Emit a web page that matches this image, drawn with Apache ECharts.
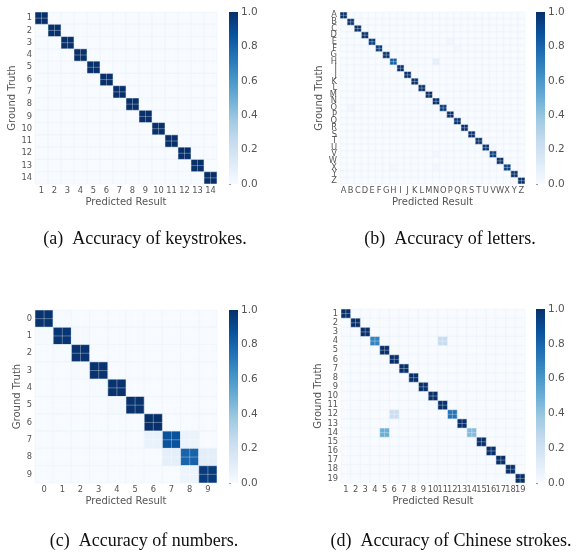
<!DOCTYPE html>
<html>
<head>
<meta charset="utf-8">
<script src="https://cdn.jsdelivr.net/npm/echarts@6/dist/echarts.min.js"></script>
<style>html,body{margin:0;padding:0;background:#fff;}#c{width:576px;height:554px;}</style>
</head>
<body>
<div id="c"></div>
<script>
// ---- Data ----
const keyCats = ['1','2','3','4','5','6','7','8','9','10','11','12','13','14'];
const keyDiag = [1,1,1,1,1,1,1,1,1,1,1,1,1,1];
const keyOff = [];

const letterCats = ['A','B','C','D','E','F','G','H','I','J','K','L','M','N','O','P','Q','R','S','T','U','V','W','X','Y','Z'];
const letterDiag = [1,1,1,1,0.96,0.95,1,0.82,1,1,1,1,1,1,0.96,1,1,1,1,1,0.98,0.94,1,0.93,1,1];
// [truthIndex, predictedIndex, value]
const letterOff = [[4,15,0.04],[5,16,0.03],[5,6,0.02],[7,13,0.1],[14,1,0.04],[21,13,0.04],[20,21,0.02],[21,20,0.02],[23,7,0.03],[23,13,0.04]];

const numCats = ['0','1','2','3','4','5','6','7','8','9'];
const numDiag = [0.99,0.98,0.99,0.99,0.99,0.99,1,0.87,0.8,0.96];
const numOff = [[0,1,0.01],[1,0,0.01],[1,2,0.015],[2,1,0.01],[3,2,0.01],[4,3,0.01],[5,4,0.015],[7,6,0.07],[7,8,0.06],[8,7,0.09],[8,9,0.1],[9,8,0.05]];

const strokeCats = ['1','2','3','4','5','6','7','8','9','10','11','12','13','14','15','16','17','18','19'];
const strokeDiag = [1,1,1,0.68,1,1,1,1,1,1,1,0.74,1,0.44,1,1,1,1,1];
const strokeOff = [[3,10,0.24],[11,5,0.22],[13,4,0.5]];

const colorbarTicks = [0, 0.2, 0.4, 0.6, 0.8, 1.0];
const captions = ['(a)  Accuracy of keystrokes.', '(b)  Accuracy of letters.', '(c)  Accuracy of numbers.', '(d)  Accuracy of Chinese strokes.'];

const blues = ['#f7fbff','#deebf7','#c6dbef','#9ecae1','#6baed6','#4292c6','#2171b5','#08519c','#08306b'];

function buildMatrix(n, diag, off) {
  const m = [];
  for (let r = 0; r < n; r++) { const row = []; for (let c = 0; c < n; c++) row.push(0); m.push(row); }
  for (let i = 0; i < n; i++) m[i][i] = diag[i];
  off.forEach(o => { m[o[0]][o[1]] = o[2]; });
  const zeros = [], nz = [];
  for (let r = 0; r < n; r++) for (let c = 0; c < n; c++) {
    (m[r][c] > 0 ? nz : zeros).push([c, r, m[r][c]]);
  }
  return zeros.concat(nz);
}

function renderCell(params, api) {
  const x = api.value(0), y = api.value(1);
  const p = api.coord([x, y]);
  const s = api.size([1, 1]);
  const color = api.visual('color');
  const x0 = p[0] - s[0] / 2, y0 = p[1] - s[1] / 2;
  const ls = 'rgba(255,255,255,0.55)';
  return {
    type: 'group',
    children: [
      { type: 'rect', shape: { x: x0, y: y0, width: s[0], height: s[1] }, style: { fill: color, stroke: 'rgba(235,242,250,0.75)', lineWidth: 0.7 } },
      { type: 'line', shape: { x1: p[0], y1: y0, x2: p[0], y2: y0 + s[1] }, style: { stroke: ls, lineWidth: 0.6 } },
      { type: 'line', shape: { x1: x0, y1: p[1], x2: x0 + s[0], y2: p[1] }, style: { stroke: ls, lineWidth: 0.6 } }
    ]
  };
}

function renderBar(params, api) {
  const a = api.coord([0, 1]);
  const b = api.coord([1, 0]);
  const stops = blues.slice().reverse().map((c, i) => ({ offset: i / (blues.length - 1), color: c }));
  return {
    type: 'rect',
    shape: { x: a[0], y: a[1], width: b[0] - a[0], height: b[1] - a[1] },
    style: { fill: new echarts.graphic.LinearGradient(0, 0, 0, 1, stops) }
  };
}

const panels = [
  { cats: keyCats, diag: keyDiag, off: keyOff, grid: { left: 35, top: 12, width: 182, height: 172 }, bar: { left: 229, top: 12, width: 9, height: 172 }, xGap: 13, yGap: 17 },
  { cats: letterCats, diag: letterDiag, off: letterOff, grid: { left: 340, top: 12, width: 185, height: 172 }, bar: { left: 536, top: 12, width: 9, height: 172 }, xGap: 13, yGap: 12 },
  { cats: numCats, diag: numDiag, off: numOff, grid: { left: 35, top: 310, width: 182, height: 173 }, bar: { left: 229, top: 310, width: 9, height: 173 }, xGap: 13, yGap: 11 },
  { cats: strokeCats, diag: strokeDiag, off: strokeOff, grid: { left: 341, top: 309, width: 184, height: 174 }, bar: { left: 536, top: 309, width: 9, height: 174 }, xGap: 13, yGap: 16 }
];

const grid = [], xAxis = [], yAxis = [], series = [], barSeries = [];
const txt = '#555';
panels.forEach((p, i) => {
  grid.push(p.grid); grid.push(p.bar);
  const gi = i * 2, bi = i * 2 + 1;
  xAxis.push({
    type: 'category', data: p.cats, gridIndex: gi,
    axisLine: { show: false }, axisTick: { show: false }, splitLine: { show: false },
    axisLabel: { interval: 0, fontSize: 8.3, color: txt, margin: 3 },
    name: 'Predicted Result', nameLocation: 'middle', nameGap: p.xGap,
    nameTextStyle: { fontSize: 10, color: txt }
  });
  yAxis.push({
    type: 'category', data: p.cats, gridIndex: gi, inverse: true,
    axisLine: { show: false }, axisTick: { show: false }, splitLine: { show: false },
    axisLabel: { interval: 0, fontSize: 8.3, color: txt, margin: 3 },
    name: 'Ground Truth', nameLocation: 'middle', nameGap: p.yGap, nameRotate: 90,
    nameTextStyle: { fontSize: 10, color: txt }
  });
  xAxis.push({ type: 'value', min: 0, max: 1, gridIndex: bi, show: false });
  yAxis.push({
    type: 'value', min: 0, max: 1, interval: 0.2, gridIndex: bi, position: 'right',
    axisLine: { show: false }, splitLine: { show: false },
    axisTick: { show: true, length: 2, lineStyle: { color: txt, width: 0.6 } },
    axisLabel: { fontSize: 10.5, color: txt, margin: 3, formatter: v => (colorbarTicks.indexOf(Math.round(v * 10) / 10) >= 0 ? v.toFixed(1) : '') }
  });
  series.push({
    type: 'custom', xAxisIndex: gi, yAxisIndex: gi,
    dimensions: ['x', 'y', 'v'], encode: { x: 0, y: 1 },
    renderItem: renderCell, data: buildMatrix(p.cats.length, p.diag, p.off), animation: false
  });
  barSeries.push({
    type: 'custom', xAxisIndex: bi, yAxisIndex: bi, renderItem: renderBar,
    data: [[0, 0]], animation: false, silent: true
  });
});

const capPos = [[145, 239], [450, 239], [144, 541], [451, 541]];
const graphic = captions.map((t, i) => ({
  type: 'text', x: capPos[i][0], y: capPos[i][1],
  style: { text: t, x: 0, y: 0, align: 'center', verticalAlign: 'middle', font: '18px "Liberation Serif"', fill: '#111' }
}));

const chart = echarts.init(document.getElementById('c'), null, { renderer: 'canvas' });
chart.setOption({
  animation: false,
  textStyle: { fontFamily: 'DejaVu Sans' },
  grid: grid, xAxis: xAxis, yAxis: yAxis,
  visualMap: { type: 'continuous', show: false, min: 0, max: 1, dimension: 2, seriesIndex: [0, 1, 2, 3], inRange: { color: blues } },
  series: series.concat(barSeries),
  graphic: graphic
});
</script>
</body>
</html>
